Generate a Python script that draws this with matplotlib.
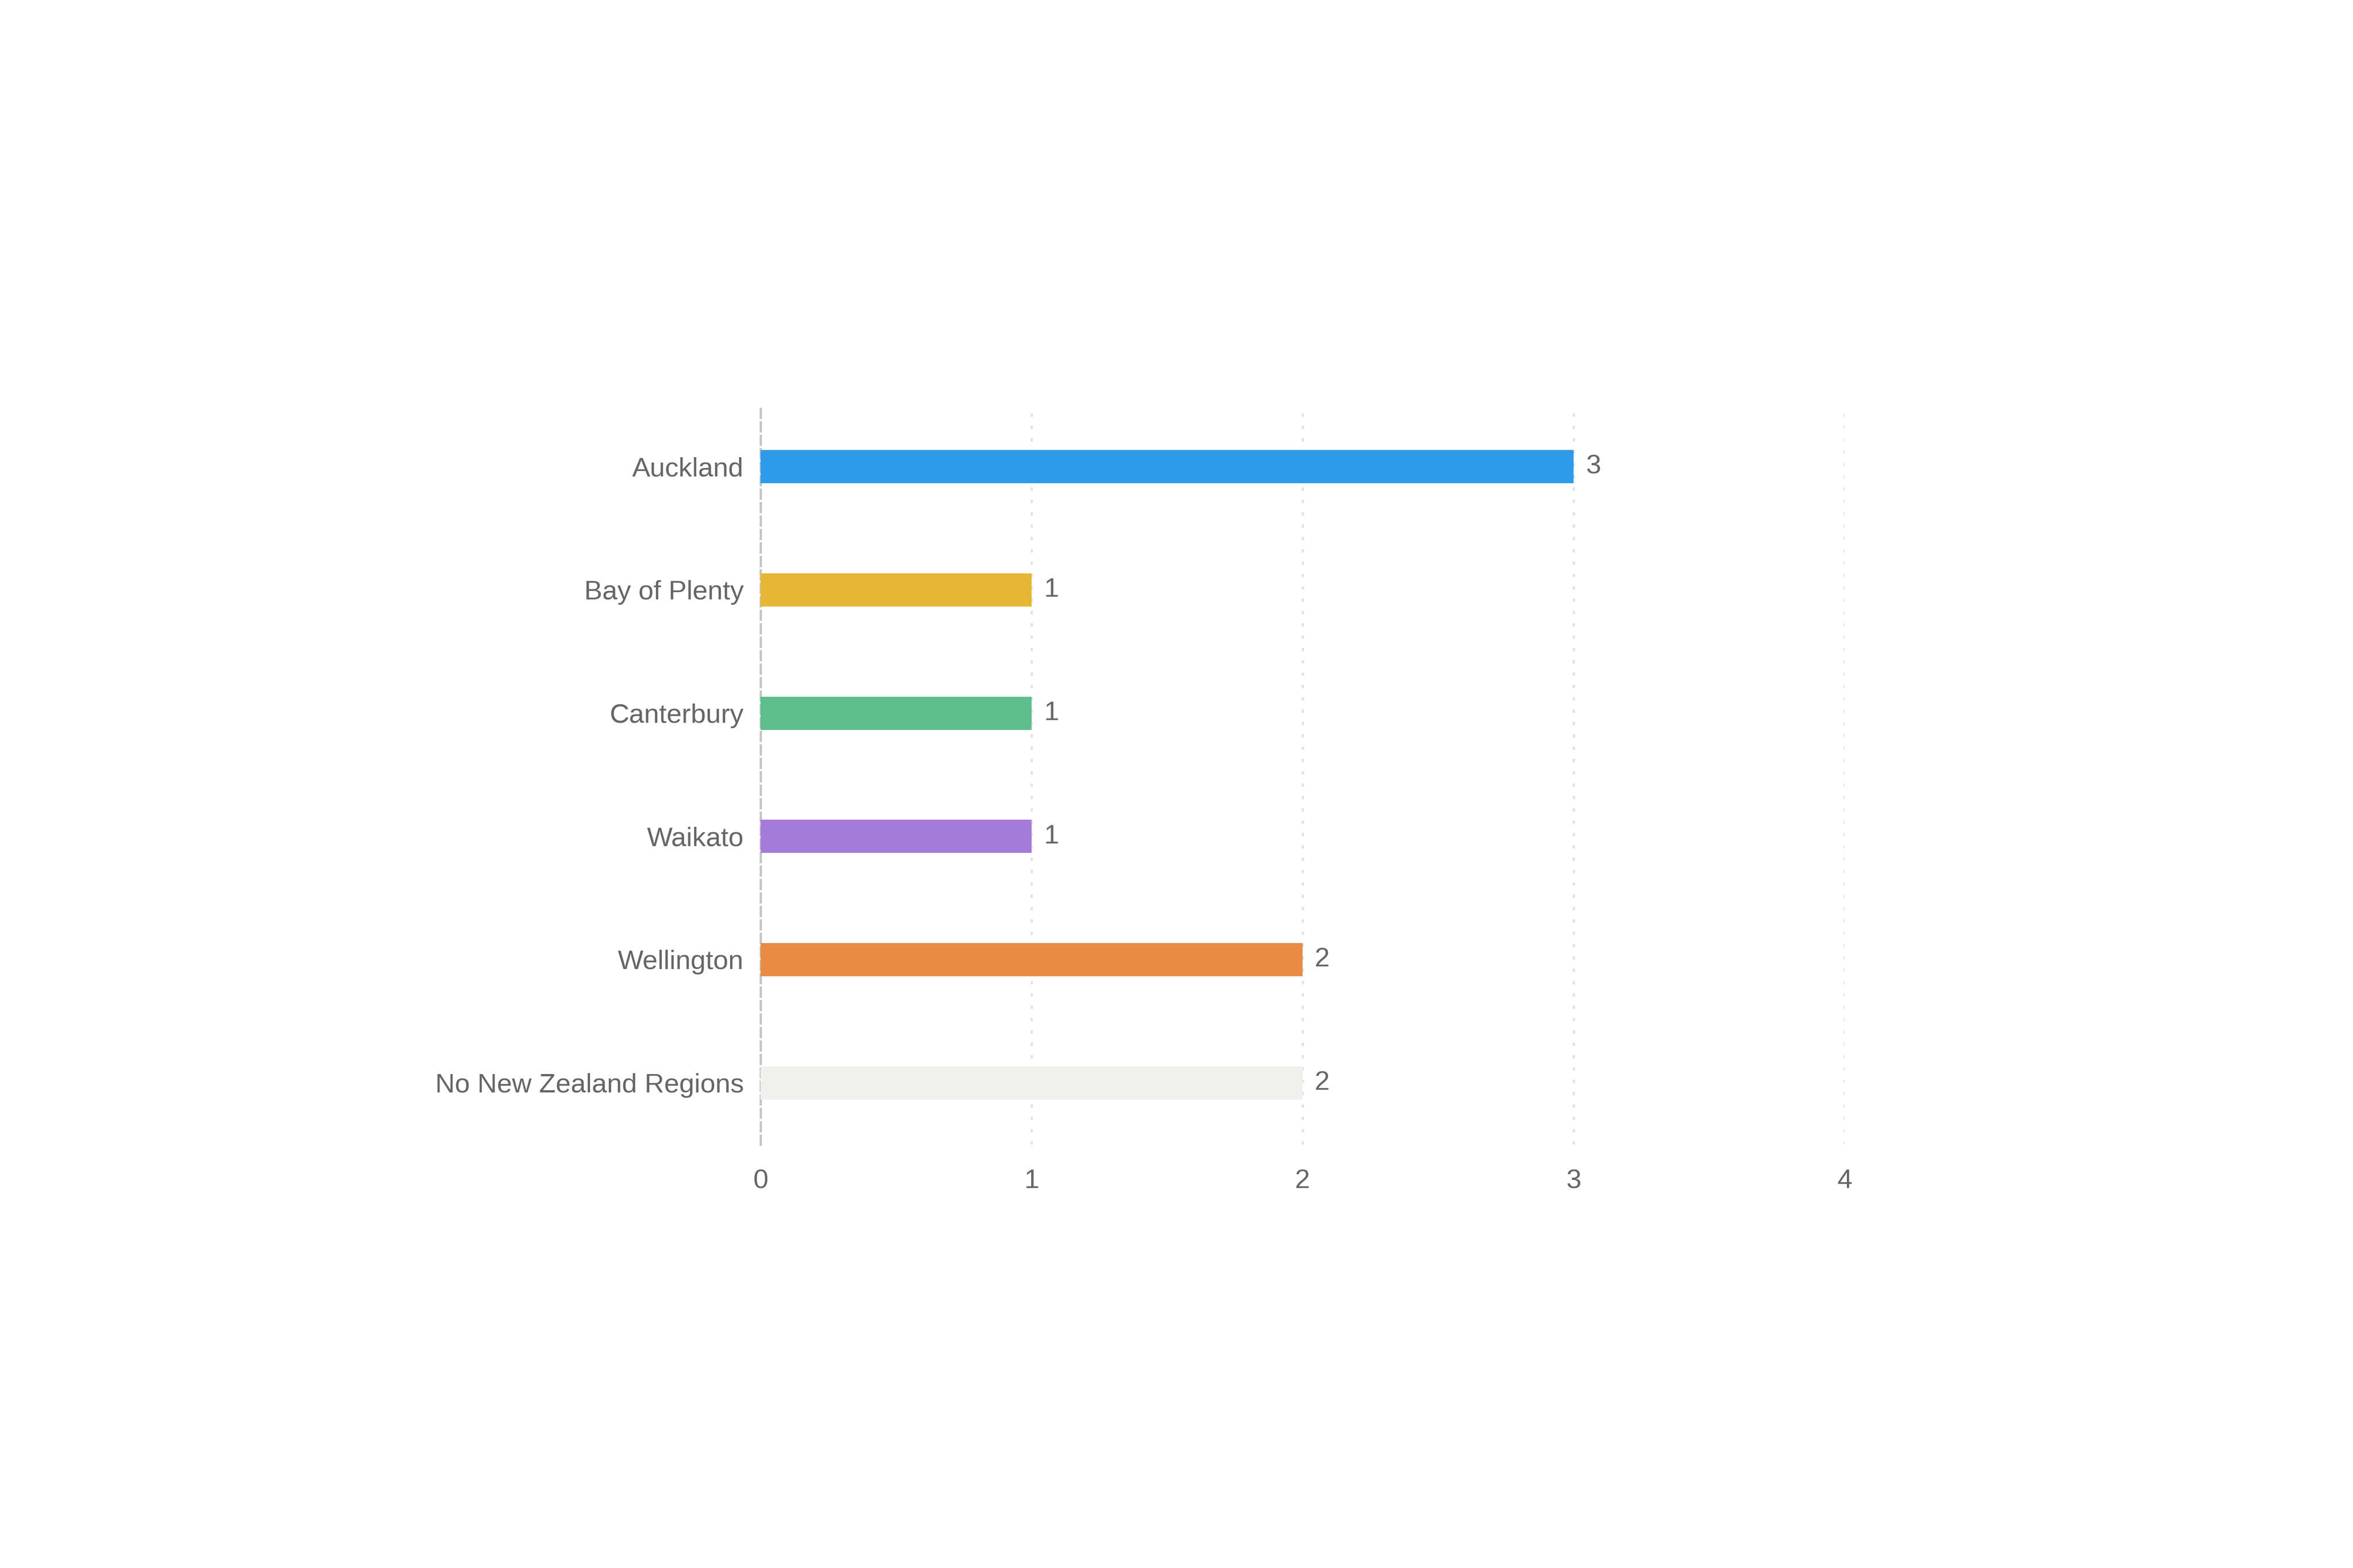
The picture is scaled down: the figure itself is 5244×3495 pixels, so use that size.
import matplotlib.pyplot as plt

# 지역별 값
regions = ['Auckland', 'Bay of Plenty', 'Canterbury', 'Waikato', 'Wellington', 'No New Zealand Regions']
counts = [3, 1, 1, 1, 2, 2]
bar_colors = ['#2E9AEA', '#E6B534', '#5FBD8C', '#A47ADA', '#EA8B42', '#F0F0EF']
x_ticks = [0, 1, 2, 3, 4]

plt.rcParams['font.family'] = ['Liberation Sans', 'DejaVu Sans']
text_color = '#666666'
fs = 14.5

fig = plt.figure(figsize=(5244 / 300, 3495 / 300), dpi=300)
# 축 위치 (픽셀 기준으로 맞춤)
left, right, top, bottom = 1695, 4111, 903, 2551
ax = fig.add_axes([left / 5244, 1 - bottom / 3495, (right - left) / 5244, (bottom - top) / 3495])

y_pos = list(range(len(regions)))
ax.barh(y_pos, counts, height=0.27, color=bar_colors, zorder=3)

# 막대 끝 값 표시
for y, v in zip(y_pos, counts):
    ax.text(v + 0.045, y, str(v), va='center', ha='left', fontsize=fs, color=text_color)

ax.set_ylim(len(regions) - 0.5, -0.5)
ax.set_xlim(0, 4)
ax.set_yticks(y_pos)
ax.set_yticklabels(regions, fontsize=fs, color=text_color)
ax.set_xticks(x_ticks)
ax.set_xticklabels([str(t) for t in x_ticks], fontsize=fs, color=text_color)
ax.tick_params(axis='both', length=0)
ax.tick_params(axis='y', pad=9)
ax.tick_params(axis='x', pad=13)

# 격자선
for t in x_ticks[1:]:
    ax.axvline(t, color='#E2E2E2', linestyle=(0, (1.5, 4)), linewidth=1.2, zorder=1)

for side in ['top', 'right', 'bottom']:
    ax.spines[side].set_visible(False)
ax.spines['left'].set_color('#C4C4C4')
ax.spines['left'].set_linestyle((0, (4, 2)))
ax.spines['left'].set_linewidth(1.2)

fig.savefig('out.png', dpi=300, facecolor='white')
